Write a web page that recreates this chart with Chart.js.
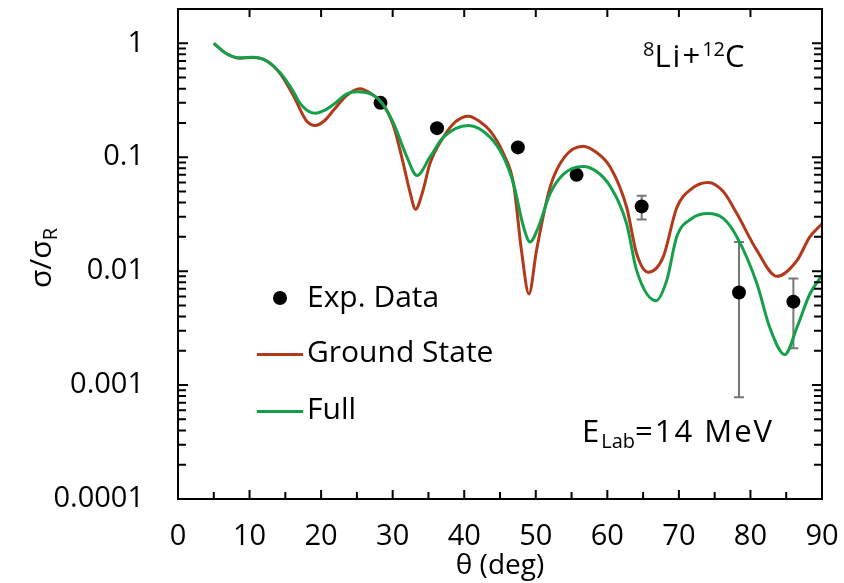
<!DOCTYPE html>
<html>
<head>
<meta charset="utf-8">
<script src="https://cdn.jsdelivr.net/npm/chart.js@4.4.1/dist/chart.umd.min.js"></script>
<style>
    body { margin: 0; background: #fff; }
    #wrap { position: relative; width: 844px; height: 583px; font-family: 'Open Sans', sans-serif; color: #000; }
    #wrap canvas { position: absolute; left: 0; top: 0; }
    .lbl { position: absolute; font-size: 30px; line-height: 30px; white-space: nowrap; }
    .lbl sup, .lbl sub { font-size: 20px; line-height: 0; }
    .lbl sup { vertical-align: 11px; }
    .lbl sub { vertical-align: -6px; }
    .wide { letter-spacing: 2px; font-size: 31px; }
    .wide sub, .wide sup { letter-spacing: 0; }
    .swatch { position: absolute; height: 3px; width: 46px; }
    .dot { position: absolute; width: 14px; height: 14px; border-radius: 50%; background: #000; }
</style>
</head>
<body>
<div id="wrap">
    <canvas id="chart" width="844" height="583"></canvas>
    <div class="lbl wide" style="left:643px; top:40px;"><sup>8</sup>Li+<sup>12</sup>C</div>
    <div class="lbl wide" style="left:582px; top:415px;">E<sub>Lab</sub>=14 MeV</div>
    <div class="dot" style="left:273px; top:291px;"></div>
    <div class="lbl" style="left:307px; top:281px;">Exp. Data</div>
    <div class="swatch" style="left:257px; top:353px; background:#b3391b;"></div>
    <div class="lbl" style="left:307px; top:336px;">Ground State</div>
    <div class="swatch" style="left:257px; top:410px; background:#12a04a;"></div>
    <div class="lbl" style="left:307px; top:393px;">Full</div>
    <div class="lbl" style="left:40px; top:258px; transform: translate(-50%, -50%) rotate(-90deg);">σ/σ<sub>R</sub></div>
</div>
<script>
// tick labels
const xTicks = [0, 10, 20, 30, 40, 50, 60, 70, 80, 90];
const yTicks = [0.0001, 0.001, 0.01, 0.1, 1];
const yTickLabels = ['0.0001', '0.001', '0.01', '0.1', '1'];

// experimental points (deg, sigma/sigmaR) and error bars
const expTheta = [28.3, 36.2, 47.5, 55.7, 64.8, 78.4, 86.0];
const expSigma = [0.30, 0.18, 0.122, 0.070, 0.037, 0.0065, 0.0054];
const expLow = [null, null, null, null, 0.0284, 0.00078, 0.0021];
const expHigh = [null, null, null, null, 0.046, 0.018, 0.0086];

// ground state calculation
const gsTheta = [5.0, 6.8, 8.7, 10.5, 12.4, 14.3, 16.1, 18.0, 19.2, 20.5, 21.7, 23.6, 25.4, 27.3, 28.5, 30.1, 31.5, 32.4, 33.2, 34.2,
    35.2, 37.1, 38.8, 40.6, 42.2, 43.6, 45.5, 46.9, 48.0, 49.05, 50.1, 52.0, 54.0, 56.6, 58.5, 60.4, 62.7, 64.1, 65.7, 67.8,
    69.7, 71.8, 74.1, 76.2, 78.1, 80.9, 83.7, 86.5, 88.3, 90.0];
const gsSigma = [1.0, 0.81, 0.74, 0.75, 0.70, 0.54, 0.35, 0.207, 0.19, 0.21, 0.257, 0.35, 0.40, 0.35, 0.30, 0.19, 0.087, 0.05, 0.035, 0.05,
    0.0875, 0.15, 0.205, 0.229, 0.205, 0.171, 0.107, 0.058, 0.0152, 0.0063, 0.0152, 0.0546, 0.10, 0.125, 0.11, 0.082, 0.0364, 0.0142, 0.0098, 0.0133,
    0.036, 0.053, 0.060, 0.05, 0.032, 0.0152, 0.009, 0.0124, 0.020, 0.026];

// full calculation
const fullTheta = [5.0, 6.8, 8.7, 10.5, 12.4, 14.3, 16.1, 17.0, 19.1, 20.3, 21.7, 23.6, 25.0, 27.3, 28.5, 30.1, 32.0, 33.4, 35.2, 37.1,
    40.6, 43.6, 45.5, 46.9, 48.3, 49.2, 50.35, 52.0, 54.0, 56.6, 58.5, 60.4, 62.7, 64.1, 66.8, 68.3, 69.7, 71.8, 74.1, 76.2,
    78.1, 80.9, 82.7, 84.8, 86.5, 88.3, 90.0];
const fullSigma = [1.0, 0.81, 0.745, 0.755, 0.70, 0.55, 0.38, 0.30, 0.243, 0.255, 0.29, 0.36, 0.375, 0.35, 0.30, 0.20, 0.10, 0.069, 0.10, 0.15,
    0.19, 0.15, 0.10, 0.058, 0.0243, 0.018, 0.0243, 0.048, 0.072, 0.083, 0.075, 0.0555, 0.026, 0.0101, 0.0055, 0.0083, 0.020, 0.029, 0.032, 0.029,
    0.020, 0.0078, 0.0032, 0.00185, 0.0032, 0.0063, 0.0092];

const toXY = (xs, ys) => xs.map((x, i) => ({ x: x, y: ys[i] }));

// keep the plot box where the layout padding puts it
function fixPadding(s) {
    s.paddingTop = 0;
    s.paddingBottom = 0;
    s.paddingLeft = 0;
    s.paddingRight = 0;
}

// inward ticks, closed frame and error bars
const frameTicks = {
    id: 'frameTicks',
    beforeDatasetsDraw(chart) {
        const { ctx, scales: { x, y } } = chart;
        ctx.save();
        ctx.strokeStyle = '#777';
        ctx.lineWidth = 2;
        expTheta.forEach((t, i) => {
            if (expLow[i] == null) return;
            const px = x.getPixelForValue(t);
            const lo = y.getPixelForValue(expLow[i]);
            const hi = y.getPixelForValue(expHigh[i]);
            ctx.beginPath();
            ctx.moveTo(px, lo); ctx.lineTo(px, hi);
            ctx.moveTo(px - 5, lo); ctx.lineTo(px + 5, lo);
            ctx.moveTo(px - 5, hi); ctx.lineTo(px + 5, hi);
            ctx.stroke();
        });
        ctx.restore();
    },
    afterDraw(chart) {
        const { ctx, chartArea: a, scales: { x, y } } = chart;
        ctx.save();
        ctx.strokeStyle = '#000';
        ctx.lineWidth = 2;
        ctx.beginPath();
        // x ticks: majors on both, minors on bottom only
        for (let t = 0; t <= 90; t += 5) {
            const px = x.getPixelForValue(t);
            const major = t % 10 === 0;
            ctx.moveTo(px, a.bottom); ctx.lineTo(px, a.bottom - (major ? 9 : 7));
            if (major) { ctx.moveTo(px, a.top); ctx.lineTo(px, a.top + 8); }
        }
        // y ticks, left and right
        yTicks.forEach((d) => {
            for (let k = 1; k <= 9; k++) {
                const v = d * k;
                if (v > 1.0001) break;
                const py = y.getPixelForValue(v);
                const len = k === 1 ? 10 : 8;
                ctx.moveTo(a.left, py); ctx.lineTo(a.left + len, py);
                ctx.moveTo(a.right, py); ctx.lineTo(a.right - len, py);
            }
        });
        ctx.stroke();
        ctx.strokeRect(a.left, a.top, a.right - a.left, a.bottom - a.top);
        ctx.restore();
    }
};

const tickFont = { family: "'Open Sans', sans-serif", size: 29 };

new Chart(document.getElementById('chart'), {
    type: 'line',
    data: {
        datasets: [
            {
                label: 'Full',
                data: toXY(fullTheta, fullSigma),
                borderColor: '#12a04a',
                borderWidth: 3,
                pointRadius: 0,
                cubicInterpolationMode: 'monotone',
                fill: false,
                order: 1
            },
            {
                label: 'Ground State',
                data: toXY(gsTheta, gsSigma),
                borderColor: '#b3391b',
                borderWidth: 3,
                pointRadius: 0,
                cubicInterpolationMode: 'monotone',
                fill: false,
                order: 2
            },
            {
                label: 'Exp. Data',
                data: toXY(expTheta, expSigma),
                showLine: false,
                pointRadius: 7,
                pointBackgroundColor: '#000',
                pointBorderWidth: 0,
                order: 3
            }
        ]
    },
    options: {
        responsive: false,
        animation: false,
        devicePixelRatio: 1,
        layout: { padding: { top: 9, right: 22, left: 0, bottom: 0 } },
        plugins: { legend: { display: false }, tooltip: { enabled: false } },
        scales: {
            x: {
                type: 'linear',
                min: 0,
                max: 90,
                afterBuildTicks: (s) => { s.ticks = xTicks.map(v => ({ value: v })); },
                afterFit: (s) => { s.height = 84; fixPadding(s); },
                ticks: { font: tickFont, color: '#000', padding: 20, maxRotation: 0 },
                grid: { display: false, drawTicks: false },
                border: { display: false },
                title: { display: true, text: 'θ (deg)', font: { family: "'Open Sans', sans-serif", size: 28 }, color: '#000', padding: 0 }
            },
            y: {
                type: 'logarithmic',
                min: 0.0001,
                max: 2,
                afterBuildTicks: (s) => { s.ticks = yTicks.map(v => ({ value: v })); },
                afterFit: (s) => { s.width = 178; fixPadding(s); },
                ticks: { font: tickFont, color: '#000', padding: 34, callback: (v, i) => yTickLabels[i] },
                grid: { display: false, drawTicks: false },
                border: { display: false }
            }
        }
    },
    plugins: [frameTicks]
});
</script>
</body>
</html>
